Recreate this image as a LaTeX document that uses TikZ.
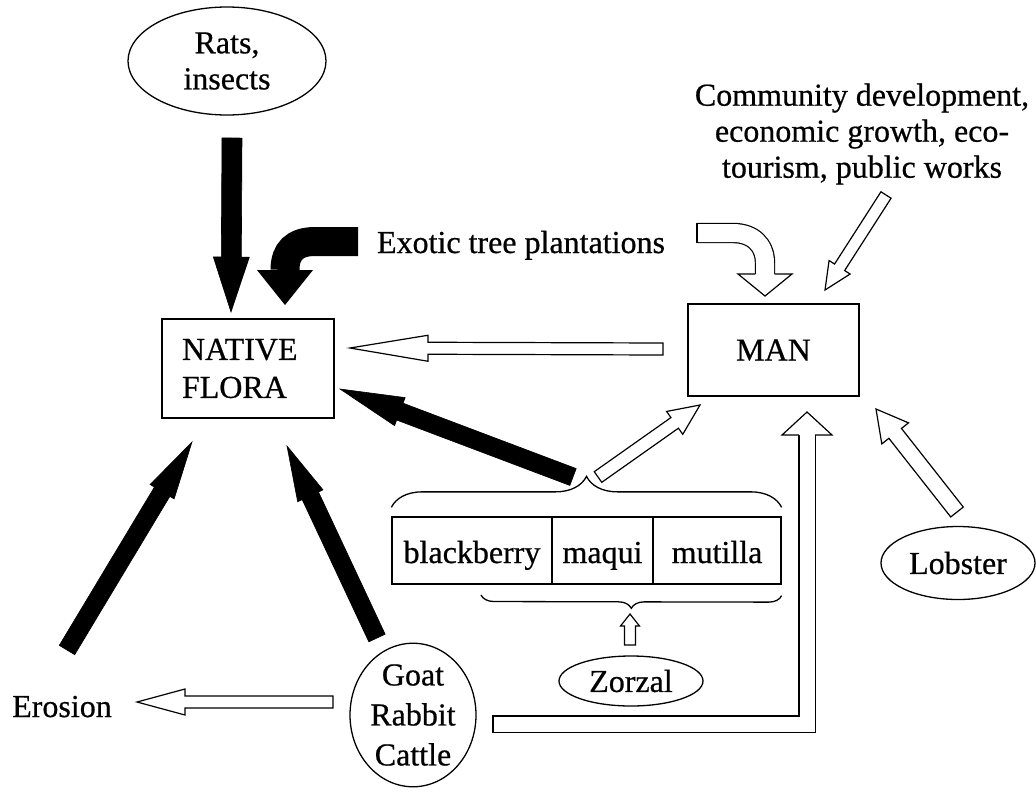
\documentclass[tikz,border=0pt]{standalone}
\usepackage{fontspec}
\setmainfont{Liberation Serif}[UprightFeatures={FakeBold=0.6}]
\usetikzlibrary{calc,shapes.geometric,decorations.pathreplacing}

% straight block arrow: #1 style, #2 tail, #3 tip, #4 shaft half width, #5 head half width, #6 head length
\newcommand\blockarrow[6][]{%
  \coordinate (hbase) at ($(#3)!#6!(#2)$);
  \filldraw[#1] ($(#2)!#4!90:(#3)$) -- ($(hbase)!#4!90:(#3)$) -- ($(hbase)!#5!90:(#3)$) -- (#3)
    -- ($(hbase)!#5!-90:(#3)$) -- ($(hbase)!#4!-90:(#3)$) -- ($(#2)!#4!-90:(#3)$) -- cycle;
}
% open head for a hollow shaft: #1 style, #2 base centre, #3 tip, #4 shaft half width, #5 head half width
\newcommand\openhead[5][]{%
  \fill[white] ($(#2)!#5!90:(#3)$) -- (#3) -- ($(#2)!#5!-90:(#3)$) -- cycle;
  \draw[#1] ($(#2)!#4!90:(#3)$) -- ($(#2)!#5!90:(#3)$) -- (#3) -- ($(#2)!#5!-90:(#3)$) -- ($(#2)!#4!-90:(#3)$);
}

\begin{document}
\begin{tikzpicture}[x=1pt,y=-1pt,
  font=\fontsize{32}{36}\selectfont,
  box/.style={draw, line width=1.3pt, inner sep=0pt},
  oval/.style={draw, ellipse, line width=1.3pt, inner sep=0pt, align=center},
  blk/.style={fill=black, draw=black, line width=0.6pt, line join=miter},
  hol/.style={fill=white, draw=black, line width=1.2pt, line join=miter},
  hline/.style={draw=black, line width=1.2pt, line join=miter},
  hshaft/.style={draw=black, double=white, line width=1.2pt, line join=miter},
  bracestyle/.style={decorate, line width=1.3pt}]
\useasboundingbox (0,0) rectangle (1036,796);

% ---- nodes ----
\node[oval, minimum width=198pt, minimum height=108pt] (rats) at (227,61) {Rats,\\insects};
\node[box, minimum width=172pt, minimum height=99pt, text width=132pt, align=left,
      inner xsep=20pt, font=\fontsize{32}{38}\selectfont] (flora) at (248,368.5) {NATIVE\\FLORA};
\node[box, minimum width=171pt, minimum height=92pt] (man) at (773.5,350) {MAN};
\node[anchor=base] (exotic) at (521,253) {Exotic tree plantations};
\node[align=center] (comm) at (862,134) {Community development,\\economic growth, eco-\\tourism, public works};
\node[box, minimum width=160pt, minimum height=67pt, text height=30pt, text depth=5pt] (bb) at (472,550.5) {blackberry};
\node[box, minimum width=101pt, minimum height=67pt, text height=30pt, text depth=5pt] (mq) at (602.5,550.5) {maqui};
\node[box, minimum width=128pt, minimum height=67pt, text height=30pt, text depth=5pt] (mt) at (717,550.5) {mutilla};
\node[oval, minimum width=144pt, minimum height=50pt] (zorzal) at (631,681) {Zorzal};
\node[oval, minimum width=126pt, minimum height=140pt, font=\fontsize{32}{40}\selectfont] (goat) at (413,715) {Goat\\Rabbit\\Cattle};
\node[oval, minimum width=154pt, minimum height=73pt] (lobster) at (958,563) {Lobster};
\node[anchor=base] (erosion) at (62,717) {Erosion};

% ---- braces ----
\draw[bracestyle, decoration={brace, amplitude=31pt}]
  ($(bb.north west)+(0,-9)$) coordinate (tb1) -- ($(mt.north east)+(0,-9)$) coordinate (tb2);
\draw[bracestyle, decoration={brace, amplitude=13pt}]
  ($(mt.south east)+(0,11)$) coordinate (bb1) -- (481,595) coordinate (bb2);

% ---- coordinates of connector ends ----
\coordinate (a1) at (232,138);  \coordinate (a2) at (231,312);
\coordinate (c1) at (358,241.5); \coordinate (c2) at (285,270); \coordinate (c3) at (285,305);
\coordinate (e1) at (697,233);  \coordinate (e2) at (765,274); \coordinate (e3) at (765,296);
\coordinate (k1) at (886,195);  \coordinate (k2) at (825,290);
\coordinate (m1) at (663,349);  \coordinate (m2) at (350,348);
\coordinate (b1) at (573,477);  \coordinate (b2) at (340,389);
\coordinate (b3) at (598,477);  \coordinate (b4) at (700,405);
\coordinate (g4) at (377,638);  \coordinate (g5) at (287,446);
\coordinate (r1) at (67,650);   \coordinate (r2) at (192,442);
\coordinate (r3) at (333,702);  \coordinate (r4) at (137,702);
\coordinate (l1) at (957,512);  \coordinate (l2) at (876,409);
\coordinate (z1) at (630,645);  \coordinate (z2) at (630,614);
\coordinate (g1) at (493,724);  \coordinate (g2) at (807,435); \coordinate (g3) at (807,412);

% ---- black arrows ----
\blockarrow[blk]{a1}{a2}{10pt}{18pt}{55pt}
\draw[line width=29pt] (c1) -- (315,241.5) .. controls (295,241.5) and (285,251) .. (c2);
\fill ($(c2)!28pt!90:(c3)$) -- (c3) -- ($(c2)!28pt!-90:(c3)$) -- cycle;
\blockarrow[blk]{b1}{b2}{9pt}{15pt}{64pt}
\blockarrow[blk]{g4}{g5}{9pt}{14pt}{55pt}
\blockarrow[blk]{r1}{r2}{9pt}{14pt}{58pt}

% ---- hollow arrows ----
\draw[hshaft, double distance=18pt] (e1) -- (733,233) .. controls (753,233) and (765,245) .. (765,263) -- (e2);
\draw[hline] ($(e1)+(0,-10.2)$) -- ($(e1)+(0,10.2)$);
\openhead[hline]{e2}{e3}{9.6pt}{27pt}

\draw[hshaft, double distance=15pt] (g1) -- (807,724) -- (g2);
\draw[hline] ($(g1)+(0,-8.7)$) -- ($(g1)+(0,8.7)$);
\openhead[hline]{g2}{g3}{8.1pt}{25pt}

\blockarrow[hol]{k1}{k2}{6pt}{12.5pt}{27pt}
\blockarrow[hol]{m1}{m2}{6pt}{13pt}{78pt}
\blockarrow[hol]{b3}{b4}{6.5pt}{14pt}{31pt}
\blockarrow[hol]{r3}{r4}{6pt}{13pt}{48pt}
\blockarrow[hol]{l1}{l2}{8pt}{17pt}{31pt}
\blockarrow[hol]{z1}{z2}{5.5pt}{9.5pt}{12pt}
\end{tikzpicture}
\end{document}
